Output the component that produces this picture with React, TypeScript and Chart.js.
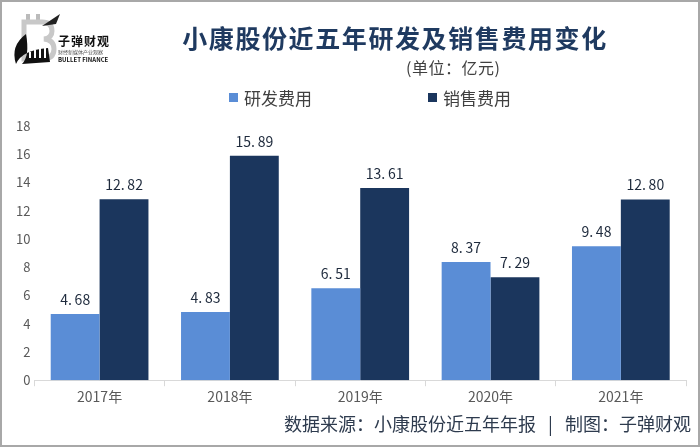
import React, { useEffect, useRef } from "react";
import { Chart, registerables } from "chart.js";

Chart.register(...registerables);

const categories = ["2017年", "2018年", "2019年", "2020年", "2021年"];
const rdValues = [4.68, 4.83, 6.51, 8.37, 9.48];
const salesValues = [12.82, 15.89, 13.61, 7.29, 12.8];
const seriesNames = ["研发费用", "销售费用"];
const yTicks = [0, 2, 4, 6, 8, 10, 12, 14, 16, 18];

const LIGHT = "#5a8dd6";
const DARK = "#1b365d";
const FONT = "'Noto Sans CJK SC', 'Noto Sans', sans-serif";

const fmt = (v: number) => {
  const s = v.toFixed(2).split(".");
  return s[0] + ".\u2009" + s[1];
};

const valueLabels = {
  id: "valueLabels",
  afterDatasetsDraw(chart: any) {
    const ctx = chart.ctx;
    ctx.save();
    ctx.font = `14px ${FONT}`;
    ctx.fillStyle = "#1e2a3c";
    ctx.textAlign = "center";
    ctx.textBaseline = "alphabetic";
    chart.data.datasets.forEach((ds: any, i: number) => {
      const meta = chart.getDatasetMeta(i);
      meta.data.forEach((bar: any, j: number) => {
        ctx.fillText(fmt(ds.data[j]), bar.x, bar.y - 9);
      });
    });
    ctx.restore();
  },
};

function Logo() {
  return (
    <div style={{ position: "absolute", left: 8, top: 6, width: 110, height: 60 }}>
      <svg width="60" height="60" viewBox="0 0 60 60" style={{ position: "absolute", left: 0, top: 0 }}>
        <path d="M20 8 v8 M30 8 v8" stroke="#bbb" strokeWidth="4" />
        <path d="M16 16 h18 q10 0 10 9 q0 7 -8 8 q10 1 10 10 q0 10 -12 10 h-18 z" fill="none" stroke="#c8c8c8" strokeWidth="5" />
        <path d="M34 20 L52 8 L48 18 Z" fill="#222" />
        <path d="M18 28 Q2 40 8 58 Q14 44 40 42 L42 56 L14 58 Q22 50 18 28 Z" fill="#111" />
        <path d="M22 52 v-6 M27 52 v-8 M32 52 v-9 M37 52 v-10" stroke="#fff" strokeWidth="2" />
      </svg>
      <div style={{ position: "absolute", left: 50, top: 26, fontFamily: FONT, fontWeight: 700, fontSize: 12, color: "#111", letterSpacing: 1, whiteSpace: "nowrap" }}>子弹财观</div>
      <div style={{ position: "absolute", left: 50, top: 42, fontFamily: FONT, fontSize: 5, color: "#555", whiteSpace: "nowrap" }}>财经新媒体产业观察</div>
      <div style={{ position: "absolute", left: 50, top: 49, fontFamily: FONT, fontWeight: 700, fontSize: 6, color: "#111", whiteSpace: "nowrap" }}>BULLET FINANCE</div>
    </div>
  );
}

export default function App() {
  const ref = useRef<HTMLCanvasElement>(null);

  useEffect(() => {
    if (!ref.current) return;
    const chart = new Chart(ref.current, {
      type: "bar",
      data: {
        labels: categories,
        datasets: [
          { label: seriesNames[0], data: rdValues, backgroundColor: LIGHT, categoryPercentage: 0.75, barPercentage: 1 },
          { label: seriesNames[1], data: salesValues, backgroundColor: DARK, categoryPercentage: 0.75, barPercentage: 1 },
        ],
      },
      options: {
        animation: false,
        responsive: false,
        maintainAspectRatio: false,
        layout: { padding: { top: 126, right: 14, bottom: 40, left: 12 } },
        plugins: { legend: { display: false }, title: { display: false }, tooltip: { enabled: false } },
        scales: {
          x: {
            grid: { display: true, drawOnChartArea: false, drawTicks: true, tickLength: 6, color: "#d9d9d9", offset: true },
            border: { display: true, color: "#d9d9d9" },
            ticks: { color: "#595959", font: { family: FONT, size: 14 }, padding: 2 },
          },
          y: {
            min: 0,
            max: 18,
            afterBuildTicks: (axis: any) => {
              axis.ticks = yTicks.map((v) => ({ value: v }));
            },
            grid: { display: false, drawTicks: false },
            border: { display: false },
            ticks: { color: "#595959", font: { family: FONT, size: 13 }, padding: 4 },
          },
        },
      },
      plugins: [valueLabels],
    });
    return () => chart.destroy();
  }, []);

  return (
    <div style={{ position: "fixed", left: 0, top: 0, width: 700, height: 447, background: "#fff", overflow: "hidden" }}>
      <canvas ref={ref} width={700} height={447} style={{ position: "absolute", left: 0, top: 0 }} />
      <Logo />
      <div style={{ position: "absolute", left: 0, width: 790, top: 20, textAlign: "center", fontFamily: FONT, fontWeight: 700, fontSize: 25, letterSpacing: 1.6, color: "#1f3a60", whiteSpace: "nowrap", lineHeight: "34px" }}>
        小康股份近五年研发及销售费用变化
      </div>
      <div style={{ position: "absolute", left: 406, top: 57, fontFamily: FONT, fontSize: 16, color: "#404040", whiteSpace: "nowrap", lineHeight: "20px", letterSpacing: 0.5 }}>
        (单位：亿元)
      </div>
      <div style={{ position: "absolute", left: 229, top: 93, width: 9, height: 9, background: LIGHT }} />
      <div style={{ position: "absolute", left: 244, top: 86, fontFamily: FONT, fontSize: 17, color: "#404040", whiteSpace: "nowrap", lineHeight: "24px" }}>{seriesNames[0]}</div>
      <div style={{ position: "absolute", left: 428, top: 93, width: 9, height: 9, background: DARK }} />
      <div style={{ position: "absolute", left: 443, top: 86, fontFamily: FONT, fontSize: 17, color: "#404040", whiteSpace: "nowrap", lineHeight: "24px" }}>{seriesNames[1]}</div>
      <div style={{ position: "absolute", right: 9, top: 410, fontFamily: FONT, fontSize: 18, color: "#2e3b4e", whiteSpace: "pre", lineHeight: "26px" }}>
        数据来源：小康股份近五年年报   |   制图：子弹财观
      </div>
      <div style={{ position: "absolute", left: 0, top: 0, width: 700, height: 447, boxSizing: "border-box", border: "2px solid #a8a8a8", pointerEvents: "none" }} />
    </div>
  );
}
